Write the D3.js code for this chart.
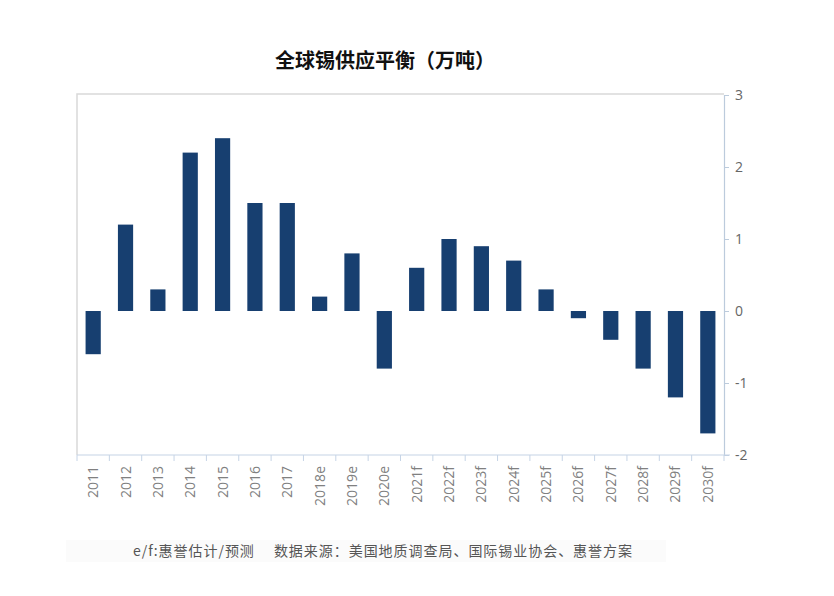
<!DOCTYPE html>
<html>
<head>
<meta charset="utf-8">
<script src="https://cdn.jsdelivr.net/npm/d3@7"></script>
<style>
  body { margin: 0; background: #fff; }
  svg { display: block; }
</style>
</head>
<body>
<div id="chart"></div>
<script>
// years along the bottom, e = estimate, f = forecast
var years = ["2011", "2012", "2013", "2014", "2015", "2016", "2017", "2018e", "2019e", "2020e",
             "2021f", "2022f", "2023f", "2024f", "2025f", "2026f", "2027f", "2028f", "2029f", "2030f"];

// supply balance, 10k tonnes
var balance = [-0.6, 1.2, 0.3, 2.2, 2.4, 1.5, 1.5, 0.2, 0.8, -0.8,
               0.6, 1.0, 0.9, 0.7, 0.3, -0.1, -0.4, -0.8, -1.2, -1.7];

var yTicks = [-2, -1, 0, 1, 2, 3];

var width = 834, height = 596;
var plotLeft = 77, plotRight = 724, plotTop = 95, plotBottom = 455;

var svg = d3.select("#chart").append("svg")
    .attr("width", width)
    .attr("height", height);

var x = d3.scaleBand()
    .domain(years)
    .range([plotLeft, plotRight])
    .paddingInner(0.53)
    .paddingOuter(0.265);

var y = d3.scaleLinear()
    .domain([-2, 3])
    .range([plotBottom, plotTop]);

// frame (top + left)
svg.append("path")
    .attr("d", "M" + plotLeft + "," + plotBottom + "V" + (plotTop - 1) + "H" + plotRight)
    .attr("fill", "none")
    .attr("stroke", "#d9d9d9")
    .attr("stroke-width", 1.5);

// bars
svg.append("g").selectAll("rect")
    .data(balance)
    .enter().append("rect")
    .attr("x", function(d, i) { return x(years[i]); })
    .attr("width", x.bandwidth())
    .attr("y", function(d) { return y(Math.max(0, d)); })
    .attr("height", function(d) { return Math.abs(y(d) - y(0)); })
    .attr("fill", "#173f70");

// right axis
var yAxis = svg.append("g")
    .attr("transform", "translate(" + plotRight + ",0)")
    .call(d3.axisRight(y).tickValues(yTicks).tickSize(5).tickPadding(6)
        .tickFormat(function(d) { return String(d); }));
yAxis.select(".domain").attr("stroke", "#bccbdc").attr("stroke-width", 1.2);
yAxis.selectAll(".tick line").attr("stroke", "#bccbdc");
yAxis.selectAll(".tick text")
    .attr("fill", "#666")
    .style("font-family", "'Open Sans', 'DejaVu Sans', sans-serif")
    .style("font-size", "14px");

// bottom axis: ticks at category boundaries
var bAxis = svg.append("g").attr("transform", "translate(0," + plotBottom + ")");
bAxis.append("line")
    .attr("x1", plotLeft).attr("x2", plotRight + 6)
    .attr("stroke", "#c6d4e6").attr("stroke-width", 1.2);
var step = x.step();
bAxis.selectAll("line.sep")
    .data(d3.range(years.length + 1))
    .enter().append("line")
    .attr("class", "sep")
    .attr("x1", function(i) { return plotLeft + i * step; })
    .attr("x2", function(i) { return plotLeft + i * step; })
    .attr("y1", 0).attr("y2", 6)
    .attr("stroke", "#c6d4e6");
bAxis.selectAll("text")
    .data(years)
    .enter().append("text")
    .attr("transform", function(d) {
        return "translate(" + (x(d) + x.bandwidth() / 2 + 5) + ",11) rotate(-90)";
    })
    .attr("text-anchor", "end")
    .attr("fill", "#808080")
    .style("font-family", "'Open Sans', 'DejaVu Sans', sans-serif")
    .style("font-size", "14px")
    .text(function(d) { return d; });

// title
svg.append("text")
    .attr("x", 385).attr("y", 68)
    .attr("text-anchor", "middle")
    .style("font-family", "'Noto Sans CJK SC', sans-serif")
    .style("font-weight", "bold")
    .style("font-size", "20px")
    .attr("fill", "#111")
    .text("全球锡供应平衡（万吨）");

// source note
svg.append("rect")
    .attr("x", 66).attr("y", 540).attr("width", 600).attr("height", 22)
    .attr("fill", "#fbfbfb");
svg.append("text")
    .attr("x", 133).attr("y", 556)
    .attr("textLength", 499)
    .style("font-family", "'Noto Sans CJK SC', sans-serif")
    .style("font-size", "14px")
    .attr("fill", "#555")
    .text("e/f:惠誉估计/预测　 数据来源：美国地质调查局、国际锡业协会、惠誉方案");
</script>
</body>
</html>
